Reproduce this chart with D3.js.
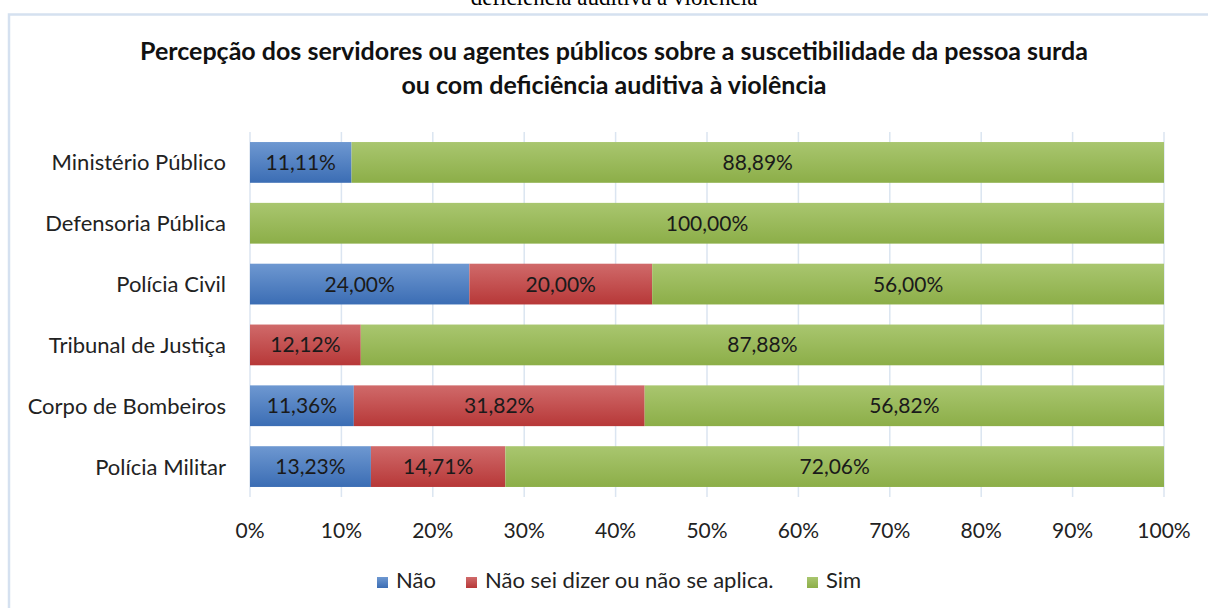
<!DOCTYPE html>
<html lang="pt">
    <head>
        <meta charset="UTF-8" />
        <title>Percepção - suscetibilidade à violência</title>
        <script src="https://d3js.org/d3.v7.js"></script>
    </head>

    <body>
        <div id="dataviz"></div>
    </body>

    <script>
        const categories = ["Ministério Público", "Defensoria Pública", "Polícia Civil",
                            "Tribunal de Justiça", "Corpo de Bombeiros", "Polícia Militar"];
        const nao    = [11.11, 0, 24.00, 0, 11.36, 13.23];
        const naoSei = [0, 0, 20.00, 12.12, 31.82, 14.71];
        const sim    = [88.89, 100.00, 56.00, 87.88, 56.82, 72.06];
        const seriesNames = ["Não", "Não sei dizer ou não se aplica.", "Sim"];
        const xTicks = [0, 10, 20, 30, 40, 50, 60, 70, 80, 90, 100];

        const W = 1208, H = 608;
        const font = "Lato, 'Open Sans', sans-serif";

        const svg = d3.select("#dataviz")
            .append("svg")
            .attr("width", W)
            .attr("height", H);

        // gradients, Excel style: lighter on top
        const colors = [
            {id: "gBlue",  top: "#6e98d1", bot: "#3b6db4"},
            {id: "gRed",   top: "#d06a6a", bot: "#b73838"},
            {id: "gGreen", top: "#a9c66f", bot: "#8cae48"}
        ];
        const defs = svg.append("defs");
        colors.forEach(c => {
            const g = defs.append("linearGradient").attr("id", c.id)
                .attr("x1", 0).attr("y1", 0).attr("x2", 0).attr("y2", 1);
            g.append("stop").attr("offset", "0%").attr("stop-color", c.top);
            g.append("stop").attr("offset", "100%").attr("stop-color", c.bot);
        });

        // caption of the document, cut at the top as in the scan
        svg.append("text")
            .attr("x", 614).attr("y", 5)
            .attr("text-anchor", "middle")
            .style("font-family", "'Liberation Serif', 'DejaVu Serif', serif")
            .style("font-size", "23px")
            .attr("fill", "#000")
            .text("deficiência auditiva à violência");

        // chart area border
        svg.append("rect")
            .attr("x", 9).attr("y", 14.5)
            .attr("width", W + 20).attr("height", H + 20)
            .attr("fill", "#fff")
            .attr("stroke", "#d5e1f0")
            .attr("stroke-width", 2.5);

        const title = svg.append("text")
            .attr("text-anchor", "middle")
            .style("font-family", font)
            .style("font-weight", "bold")
            .style("font-size", "25px")
            .attr("fill", "#111");
        title.append("tspan").attr("x", 614).attr("y", 60)
            .text("Percepção dos servidores ou agentes públicos sobre a suscetibilidade da pessoa surda");
        title.append("tspan").attr("x", 614).attr("y", 94)
            .text("ou com deficiência auditiva à violência");

        const x = d3.scaleLinear().domain([0, 100]).range([250, 1164]);
        const y = d3.scaleBand().domain(categories).range([132, 497])
            .paddingInner(0.33).paddingOuter(0.165);

        // vertical gridlines
        svg.append("g")
            .selectAll("line")
            .data(xTicks)
            .join("line")
            .attr("x1", d => x(d)).attr("x2", d => x(d))
            .attr("y1", 132).attr("y2", 497)
            .attr("stroke", "#dbe5f1")
            .attr("stroke-width", 1.5);

        // tick labels
        svg.append("g")
            .selectAll("text")
            .data(xTicks)
            .join("text")
            .attr("x", d => x(d))
            .attr("y", 538)
            .attr("text-anchor", "middle")
            .style("font-family", font)
            .style("font-size", "21px")
            .attr("fill", "#222")
            .text(d => d + "%");

        // category labels
        svg.append("g")
            .selectAll("text")
            .data(categories)
            .join("text")
            .attr("x", 226)
            .attr("y", d => y(d) + y.bandwidth() / 2)
            .attr("dy", "0.36em")
            .attr("text-anchor", "end")
            .style("font-family", font)
            .style("font-size", "22px")
            .attr("fill", "#222")
            .text(d => d);

        const table = categories.map((c, i) => ({cat: c, nao: nao[i], naoSei: naoSei[i], sim: sim[i]}));
        const stack = d3.stack().keys(["nao", "naoSei", "sim"])(table);
        const ptBR = d3.formatLocale({decimal: ",", thousands: ".", grouping: [3], currency: ["R$", ""]});
        const fmt = ptBR.format(".2f");

        const layers = svg.append("g")
            .selectAll("g")
            .data(stack)
            .join("g")
            .attr("fill", (d, i) => `url(#${colors[i].id})`);

        layers.selectAll("rect")
            .data(d => d.filter(s => s[1] - s[0] > 0))
            .join("rect")
            .attr("x", d => x(d[0]))
            .attr("y", d => y(d.data.cat))
            .attr("width", d => x(d[1]) - x(d[0]))
            .attr("height", y.bandwidth());

        layers.selectAll("text")
            .data(d => d.filter(s => s[1] - s[0] > 0))
            .join("text")
            .attr("x", d => (x(d[0]) + x(d[1])) / 2)
            .attr("y", d => y(d.data.cat) + y.bandwidth() / 2)
            .attr("dy", "0.36em")
            .attr("text-anchor", "middle")
            .attr("fill", "#1a1a1a")
            .style("font-family", font)
            .style("font-size", "21px")
            .text(d => fmt(d[1] - d[0]) + "%");

        // legend
        const legX = [377, 466, 807];
        const legend = svg.append("g")
            .selectAll("g")
            .data(seriesNames)
            .join("g")
            .attr("transform", (d, i) => `translate(${legX[i]}, 577)`);
        legend.append("rect")
            .attr("width", 11).attr("height", 11)
            .attr("fill", (d, i) => `url(#${colors[i].id})`);
        legend.append("text")
            .attr("x", 19).attr("y", 11)
            .style("font-family", font)
            .style("font-size", "22px")
            .attr("fill", "#222")
            .text(d => d);
    </script>

    <style>
        body { margin: 0; }
        svg { display: block; }
    </style>
</html>
